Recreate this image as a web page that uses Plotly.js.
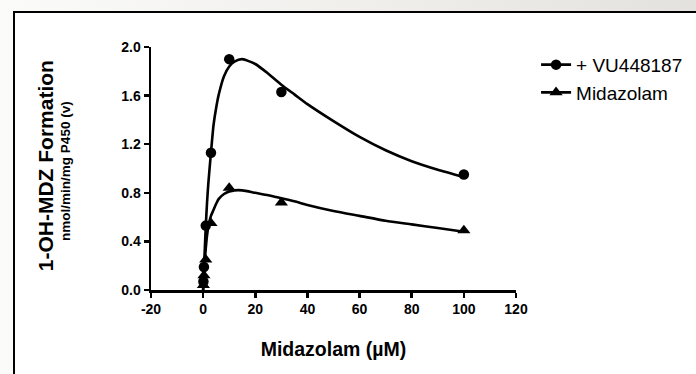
<!DOCTYPE html>
<html>
<head>
<meta charset="utf-8">
<script src="https://cdn.plot.ly/plotly-3.0.1.min.js"></script>
<style>
  html, body { margin: 0; padding: 0; width: 696px; height: 374px; overflow: hidden;
    background: linear-gradient(90deg, #fbfbfa 0%, #efeeeb 55%, #e4e2de 100%); }
  #frame { position: absolute; left: 13px; top: 11px; width: 800px; height: 500px;
    border: 2px solid #000; background: #fff; }
  #chart { position: absolute; left: 0; top: 0; width: 696px; height: 374px; }
</style>
</head>
<body>
<div id="frame"></div>
<div id="chart"></div>
<script>
// Measured data (Midazolam concentration, µM)
const conc = [0.1, 0.3, 1, 3, 10, 30, 100];
const vuValues = [0.07, 0.19, 0.53, 1.13, 1.90, 1.63, 0.95];   // + VU448187
const mdzValues = [0.04, 0.12, 0.25, 0.55, 0.84, 0.72, 0.49];  // Midazolam

// Fitted curves
const fitX = [0, 0.25, 0.5, 1, 1.5, 2, 3, 4, 5, 6, 8, 10, 12, 15, 20, 25, 30, 35, 40, 50, 60, 70, 80, 90, 100];
const vuFit = [0, 0.14, 0.27, 0.52, 0.72, 0.88, 1.13, 1.36, 1.50, 1.61, 1.76, 1.84, 1.88, 1.90, 1.86, 1.78, 1.69, 1.61, 1.53, 1.39, 1.26, 1.15, 1.06, 0.99, 0.93];
const mdzFit = [0, 0.11, 0.20, 0.34, 0.45, 0.52, 0.61, 0.66, 0.71, 0.75, 0.79, 0.81, 0.82, 0.82, 0.80, 0.78, 0.755, 0.73, 0.70, 0.65, 0.61, 0.57, 0.54, 0.51, 0.48];

const seriesNames = ['+ VU448187', 'Midazolam'];
const xTicks = [-20, 0, 20, 40, 60, 80, 100, 120];
const yTicks = [0, 0.4, 0.8, 1.2, 1.6, 2.0];

// interleave nulls so the legend shows line+marker but points stay unconnected
function gap(arr) { const out = []; arr.forEach((v, i) => { if (i) out.push(null); out.push(v); }); return out; }

const FONT = '"Liberation Sans", Arial, sans-serif';

const traces = [
  { x: fitX, y: vuFit, mode: 'lines', line: {color: '#000', width: 2.6, shape: 'spline', smoothing: 0.6},
    showlegend: false, hoverinfo: 'skip' },
  { x: fitX, y: mdzFit, mode: 'lines', line: {color: '#000', width: 2.6, shape: 'spline', smoothing: 0.6},
    showlegend: false, hoverinfo: 'skip' },
  { x: gap(conc), y: gap(vuValues), name: seriesNames[0], mode: 'lines+markers', connectgaps: false,
    line: {color: '#000', width: 2.6}, marker: {symbol: 'circle', size: 10.5, color: '#000'} },
  { x: gap(conc), y: gap(mdzValues), name: seriesNames[1], mode: 'lines+markers', connectgaps: false,
    line: {color: '#000', width: 2.6}, marker: {symbol: 'triangle-up', size: 11.5, color: '#000'} }
];

const layout = {
  width: 696, height: 374,
  margin: {l: 151, r: 180, t: 47, b: 84, pad: 0, autoexpand: false},
  paper_bgcolor: 'rgba(0,0,0,0)', plot_bgcolor: 'rgba(0,0,0,0)',
  font: {family: FONT, color: '#000'},
  xaxis: {
    range: [-20, 120], tickvals: xTicks, ticktext: xTicks.map(String),
    showgrid: false, zeroline: false, showline: true, linecolor: '#000', linewidth: 2.5,
    ticks: 'outside', ticklen: 5, tickwidth: 2.5, tickcolor: '#000',
    tickfont: {family: FONT, size: 14, weight: 'bold', color: '#000'},
    title: {text: 'Midazolam (µM)', font: {family: FONT, size: 19.5, weight: 'bold', color: '#000'}, standoff: 26}
  },
  yaxis: {
    range: [0, 2.0], tickvals: yTicks, ticktext: yTicks.map(v => v.toFixed(1)),
    showgrid: false, zeroline: false, showline: true, linecolor: '#000', linewidth: 2.5,
    ticks: 'outside', ticklen: 5, tickwidth: 2.5, tickcolor: '#000',
    tickfont: {family: FONT, size: 14, weight: 'bold', color: '#000'}
  },
  showlegend: true,
  legend: {
    x: 1.055, xanchor: 'left', y: 1.005, yanchor: 'top',
    bgcolor: 'rgba(0,0,0,0)', font: {family: FONT, size: 19, color: '#000'},
    itemwidth: 30, tracegroupgap: 0
  },
  annotations: [
    {text: '1-OH-MDZ Formation', xref: 'paper', yref: 'paper', x: -0.29, y: 0.51,
     xanchor: 'center', yanchor: 'middle', textangle: -90, showarrow: false,
     font: {family: FONT, size: 21, weight: 'bold', color: '#000'}},
    {text: 'nmol/min/mg P450 (v)', xref: 'paper', yref: 'paper', x: -0.233, y: 0.49,
     xanchor: 'center', yanchor: 'middle', textangle: -90, showarrow: false,
     font: {family: FONT, size: 13.5, weight: 'bold', color: '#000'}}
  ]
};

Plotly.newPlot('chart', traces, layout, {displayModeBar: false, staticPlot: true});
</script>
</body>
</html>
